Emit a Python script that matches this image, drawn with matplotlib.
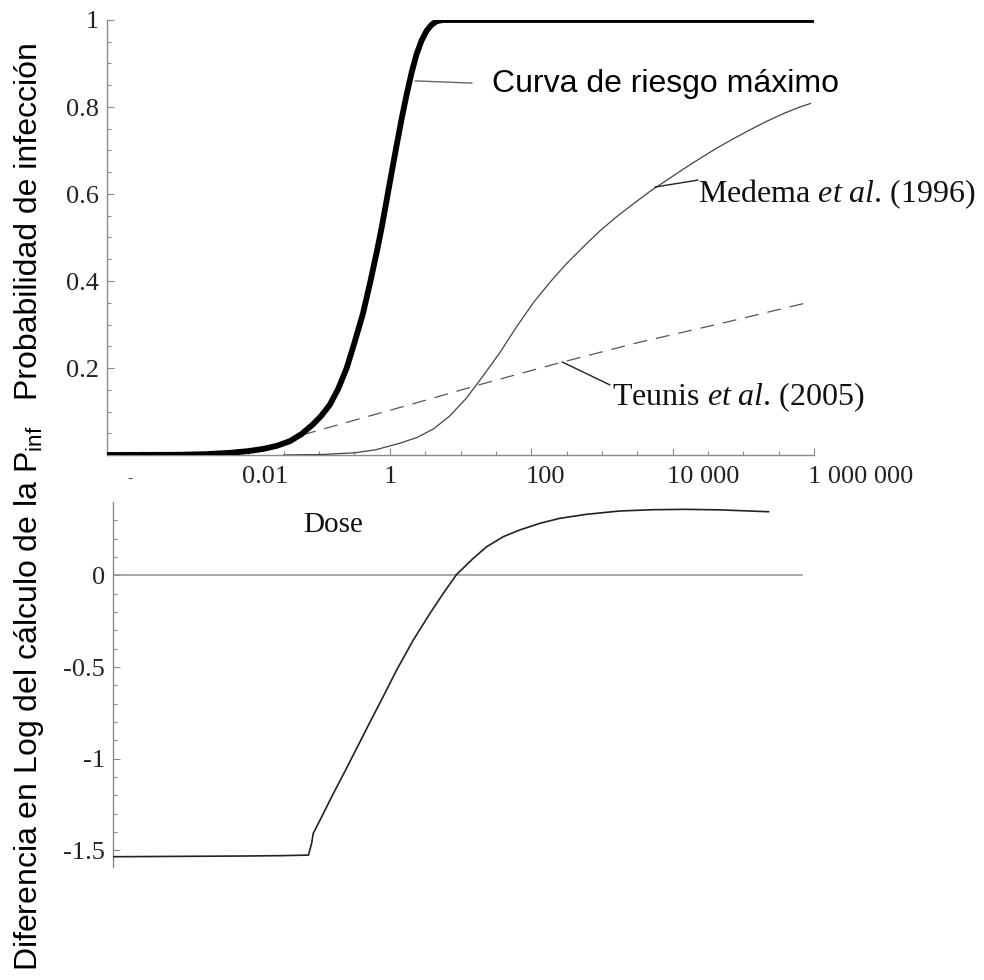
import numpy as np
import matplotlib
matplotlib.use('Agg')
import matplotlib.pyplot as plt
from matplotlib.ticker import FixedLocator, NullFormatter
import matplotlib.transforms as mtrans

plt.rcParams['mathtext.fontset'] = 'custom'
plt.rcParams['mathtext.rm'] = 'Liberation Serif'
plt.rcParams['mathtext.it'] = 'Liberation Serif:italic'
plt.rcParams['lines.scale_dashes'] = False

# ---------------- data (log10 dose) ----------------
curva_logdose = [-4.0, -3.0, -2.6, -2.26, -2.0, -1.79, -1.6, -1.41, -1.25, -1.09,
                 -0.97, -0.85, -0.73, -0.61, -0.5, -0.38, -0.28, -0.18, -0.11, -0.04,
                 0.03, 0.10, 0.17, 0.24, 0.31, 0.38, 0.45, 0.52, 0.59, 0.66,
                 0.75, 1.0, 6.0]
curva_p = [0.0, 0.0005, 0.002, 0.005, 0.009, 0.014, 0.021, 0.032, 0.048, 0.07,
           0.09, 0.115, 0.152, 0.2, 0.258, 0.325, 0.395, 0.47, 0.527, 0.59,
           0.653, 0.715, 0.775, 0.83, 0.88, 0.922, 0.953, 0.975, 0.989, 0.997,
           1.0, 1.0, 1.0]

medema_logdose = [-1.5, -1.0, -0.5, -0.2, 0.14, 0.38, 0.62, 0.85, 1.09, 1.32,
                  1.56, 1.79, 2.03, 2.27, 2.50, 2.74, 2.97, 3.21, 3.45, 3.68,
                  3.92, 4.15, 4.39, 4.62, 4.86, 5.10, 5.33, 5.57, 5.80, 5.95]
medema_p = [0.0, 0.001, 0.005, 0.012, 0.027, 0.040, 0.060, 0.090, 0.132, 0.182,
            0.236, 0.294, 0.350, 0.398, 0.440, 0.479, 0.515, 0.548, 0.578, 0.606,
            0.632, 0.657, 0.682, 0.705, 0.727, 0.748, 0.767, 0.785, 0.800, 0.808]

teunis_logdose = [-1.24, -0.5, 0.27, 1.3, 2.38, 3.5, 4.7, 5.95]
teunis_p = [0.046, 0.08, 0.115, 0.163, 0.211, 0.258, 0.303, 0.352]

diff_logdose = [-4.0, -2.11, -1.60, -1.235, -1.19, -1.167, -1.07, -0.884, -0.695, -0.506,
                -0.365, -0.177, 0.012, 0.248, 0.484, 0.672, 0.86, 1.096, 1.285, 1.521,
                1.757, 2.04, 2.32, 2.70, 3.17, 3.64, 4.11, 4.59, 5.27]
diff_val = [-1.534, -1.53, -1.528, -1.525, -1.46, -1.406, -1.333, -1.19, -1.05, -0.907,
            -0.80, -0.66, -0.516, -0.352, -0.207, -0.098, 0.005, 0.093, 0.156, 0.211,
            0.248, 0.284, 0.311, 0.333, 0.351, 0.358, 0.360, 0.357, 0.347]

xtick_logs = [-2, 0, 2, 4, 6]
xtick_labels = ['0.01', '1', '100', '10 000', '1 000 000']
ytick_top = [0.2, 0.4, 0.6, 0.8, 1.0]
ytick_top_labels = ['0.2', '0.4', '0.6', '0.8', '1']
ytick_bot = [-1.5, -1.0, -0.5, 0.0]
ytick_bot_labels = ['-1.5', '-1', '-0.5', '0']

SERIF = 'Liberation Serif'
SANS = 'Liberation Sans'
GRAY = '#8a8a8a'

fig = plt.figure(figsize=(9.84, 9.80), dpi=100)
ax = fig.add_axes([107/984, 1-455/980, 707/984, 435/980])
ax2 = fig.add_axes([113/984, 1-867/980, 707/984, 365/980])

# ---------------- top axes ----------------
ax.plot(10**np.array(curva_logdose), curva_p, color='black', lw=4.2,
        solid_capstyle='butt', solid_joinstyle='round', zorder=4)
ax.plot(10**np.array(medema_logdose), medema_p, color='#444444', lw=0.9, zorder=3)
ax.plot(10**np.array(teunis_logdose), teunis_p, color='#555555', lw=0.9,
        dashes=(10, 6.5), zorder=3)

ax.set_xscale('log')
ax.set_xlim(1e-4, 1e6)
ax.set_ylim(0, 1)
for s in ['top', 'right']:
    ax.spines[s].set_visible(False)
for s in ['left', 'bottom']:
    ax.spines[s].set_color(GRAY)
    ax.spines[s].set_linewidth(1.0)

ax.xaxis.set_major_locator(FixedLocator(10.0**np.array(xtick_logs)))
ax.xaxis.set_minor_locator(FixedLocator(10.0**np.arange(-4, 6.01, 0.5)))
ax.xaxis.set_major_formatter(NullFormatter())
ax.xaxis.set_minor_formatter(NullFormatter())
ax.yaxis.set_major_locator(FixedLocator(ytick_top))
ax.yaxis.set_minor_locator(FixedLocator(np.arange(0.05, 1.0, 0.05)))
ax.set_yticklabels(ytick_top_labels)
ax.tick_params(which='both', direction='in', color=GRAY, width=0.8)
ax.tick_params(which='major', length=5, pad=6)
ax.tick_params(which='minor', length=3)
for lab in ax.get_yticklabels():
    lab.set_fontfamily(SERIF)
    lab.set_fontsize(19)
    lab.set_color('#222222')

xtrans = mtrans.blended_transform_factory(ax.transData, ax.transAxes) + \
    mtrans.ScaledTranslation(-6/100, 0, fig.dpi_scale_trans)
for lg, lab in zip(xtick_logs, xtick_labels):
    ax.text(10.0**lg, -0.064, lab, transform=xtrans, ha='left', va='baseline',
            fontfamily=SERIF, fontsize=19, color='#222222', clip_on=False)
ax.text(10**-3.67, -0.064, '-', transform=mtrans.blended_transform_factory(ax.transData, ax.transAxes),
        ha='center', va='baseline', fontfamily=SERIF, fontsize=11, color='#555555', clip_on=False)

# annotations
ax.annotate('', xy=(10**0.357, 0.86), xytext=(10**1.163, 0.855),
            arrowprops=dict(arrowstyle='-', color='#666666', lw=1.0, shrinkA=0, shrinkB=0))
ax.text(10**1.445, 0.834, 'Curva de riesgo máximo', fontfamily=SANS, fontsize=23,
        ha='left', va='baseline', color='black')

ax.annotate('', xy=(10**3.75, 0.616), xytext=(10**4.36, 0.632),
            arrowprops=dict(arrowstyle='-', color='#222222', lw=1.0, shrinkA=0, shrinkB=0))
ax.text(10**4.36, 0.582, r'Medema $\mathit{et\ al}$. (1996)', fontfamily=SERIF, fontsize=23,
        ha='left', va='baseline', color='#111111', clip_on=False)

ax.annotate('', xy=(10**2.436, 0.214), xytext=(10**3.115, 0.161),
            arrowprops=dict(arrowstyle='-', color='#222222', lw=1.0, shrinkA=0, shrinkB=0))
ax.text(10**3.14, 0.115, r'Teunis $\mathit{et\ al}$. (2005)', fontfamily=SERIF, fontsize=23,
        ha='left', va='baseline', color='#111111', clip_on=False)

# ---------------- bottom axes ----------------
ax2.plot(10**np.array(diff_logdose), diff_val, color='#222222', lw=1.2, zorder=3)
ax2.axhline(0, xmin=0, xmax=(802-113)/707, color='#999999', lw=1.2, zorder=2)
ax2.set_xscale('log')
ax2.set_xlim(1e-4, 1e6)
ax2.set_ylim(-1.59, 0.4)
for s in ['top', 'right', 'bottom']:
    ax2.spines[s].set_visible(False)
ax2.spines['left'].set_color(GRAY)
ax2.spines['left'].set_linewidth(1.0)
ax2.xaxis.set_major_locator(FixedLocator([]))
ax2.xaxis.set_minor_locator(FixedLocator([]))
ax2.yaxis.set_major_locator(FixedLocator(ytick_bot))
ax2.yaxis.set_minor_locator(FixedLocator(np.arange(-1.5, 0.35, 0.1)))
ax2.set_yticklabels(ytick_bot_labels)
ax2.tick_params(which='both', direction='in', color=GRAY, width=0.8)
ax2.tick_params(which='major', length=5, pad=6)
ax2.tick_params(which='minor', length=3)
for lab in ax2.get_yticklabels():
    lab.set_fontfamily(SERIF)
    lab.set_fontsize(19)
    lab.set_color('#222222')

ax2.text(10**-1.31, 0.237, 'Dose', fontfamily=SERIF, fontsize=21, ha='left',
         va='baseline', color='#111111')

# ---------------- y labels ----------------
fig.text(29/984, 1-221/980, 'Probabilidad de infección', rotation=90, ha='center',
         va='center', fontfamily=SANS, fontsize=23, color='black')
fig.text(29/984, 1-698/980, r'Diferencia en Log del cálculo de la $\mathregular{P_{inf}}$',
         rotation=90, ha='center', va='center', fontfamily=SANS, fontsize=23, color='black')

fig.savefig('out.png', dpi=100)
